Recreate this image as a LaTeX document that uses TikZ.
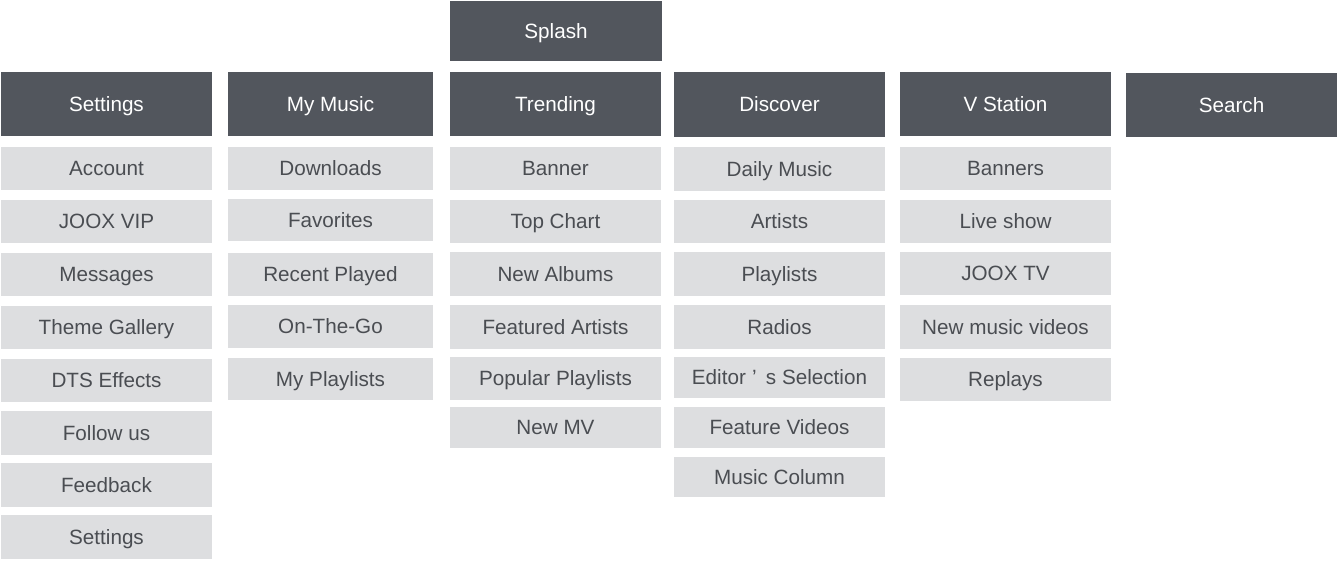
\documentclass[tikz,border=0pt]{standalone}
\usepackage{fontspec}
\setmainfont{Liberation Sans}
\definecolor{hdr}{HTML}{52565D}
\definecolor{itm}{HTML}{DDDEE0}
\definecolor{itmtxt}{HTML}{4A4D52}
\newcommand\bx[7]{%
  \node[#1, minimum width={(#5-#3)*0.75pt}, minimum height={(#6-#4)*0.75pt}]
    (#2) at ({(#3+#5)/2},{(#4+#6)/2}) {#7};}
\begin{document}
\begin{tikzpicture}[x=0.75pt,y=-0.75pt,
  base/.style={inner sep=0pt, text height=12.6pt, text depth=1.6pt, font=\fontsize{15.5}{18}\selectfont},
  hbox/.style={base, fill=hdr, text=white},
  ibox/.style={base, fill=itm, text=itmtxt}]
\useasboundingbox[fill=white] (0,0) rectangle (1338,561);
% headers
\bx{hbox}{splash}{450}{1}{662}{61}{Splash}
\bx{hbox}{hset}{1}{72}{212}{136}{Settings}
\bx{hbox}{hmy}{228}{72}{433}{136}{My Music}
\bx{hbox}{htr}{450}{72}{661}{136}{Trending}
\bx{hbox}{hdi}{674}{72}{885}{137}{Discover}
\bx{hbox}{hvs}{900}{72}{1111}{136}{V Station}
\bx{hbox}{hse}{1126}{73}{1337}{137}{Search}
% Settings column
\bx{ibox}{s1}{1}{147}{212}{190}{Account}
\bx{ibox}{s2}{1}{200}{212}{243}{JOOX VIP}
\bx{ibox}{s3}{1}{253}{212}{296}{Messages}
\bx{ibox}{s4}{1}{306}{212}{349}{Theme Gallery}
\bx{ibox}{s5}{1}{359}{212}{402}{DTS Effects}
\bx{ibox}{s6}{1}{411}{212}{455}{Follow us}
\bx{ibox}{s7}{1}{463}{212}{507}{Feedback}
\bx{ibox}{s8}{1}{515}{212}{559}{Settings}
% My Music column
\bx{ibox}{m1}{228}{147}{433}{190}{Downloads}
\bx{ibox}{m2}{228}{199}{433}{241}{Favorites}
\bx{ibox}{m3}{228}{253}{433}{296}{Recent Played}
\bx{ibox}{m4}{228}{305}{433}{348}{On-The-Go}
\bx{ibox}{m5}{228}{358}{433}{400}{My Playlists}
% Trending column
\bx{ibox}{t1}{450}{147}{661}{190}{Banner}
\bx{ibox}{t2}{450}{200}{661}{243}{Top Chart}
\bx{ibox}{t3}{450}{252}{661}{296}{New Albums}
\bx{ibox}{t4}{450}{305}{661}{349}{Featured Artists}
\bx{ibox}{t5}{450}{357}{661}{400}{Popular Playlists}
\bx{ibox}{t6}{450}{407}{661}{448}{New MV}
% Discover column
\bx{ibox}{d1}{674}{147}{885}{191}{Daily Music}
\bx{ibox}{d2}{674}{200}{885}{243}{Artists}
\bx{ibox}{d3}{674}{252}{885}{296}{Playlists}
\bx{ibox}{d4}{674}{305}{885}{349}{Radios}
\bx{ibox}{d5}{674}{357}{885}{398}{Editor\hspace{0.3em}’\hspace{0.45em}s Selection}
\bx{ibox}{d6}{674}{407}{885}{448}{Feature Videos}
\bx{ibox}{d7}{674}{457}{885}{497}{Music Column}
% V Station column
\bx{ibox}{v1}{900}{147}{1111}{190}{Banners}
\bx{ibox}{v2}{900}{200}{1111}{243}{Live show}
\bx{ibox}{v3}{900}{252}{1111}{295}{JOOX TV}
\bx{ibox}{v4}{900}{305}{1111}{349}{New music videos}
\bx{ibox}{v5}{900}{358}{1111}{401}{Replays}
\end{tikzpicture}
\end{document}
